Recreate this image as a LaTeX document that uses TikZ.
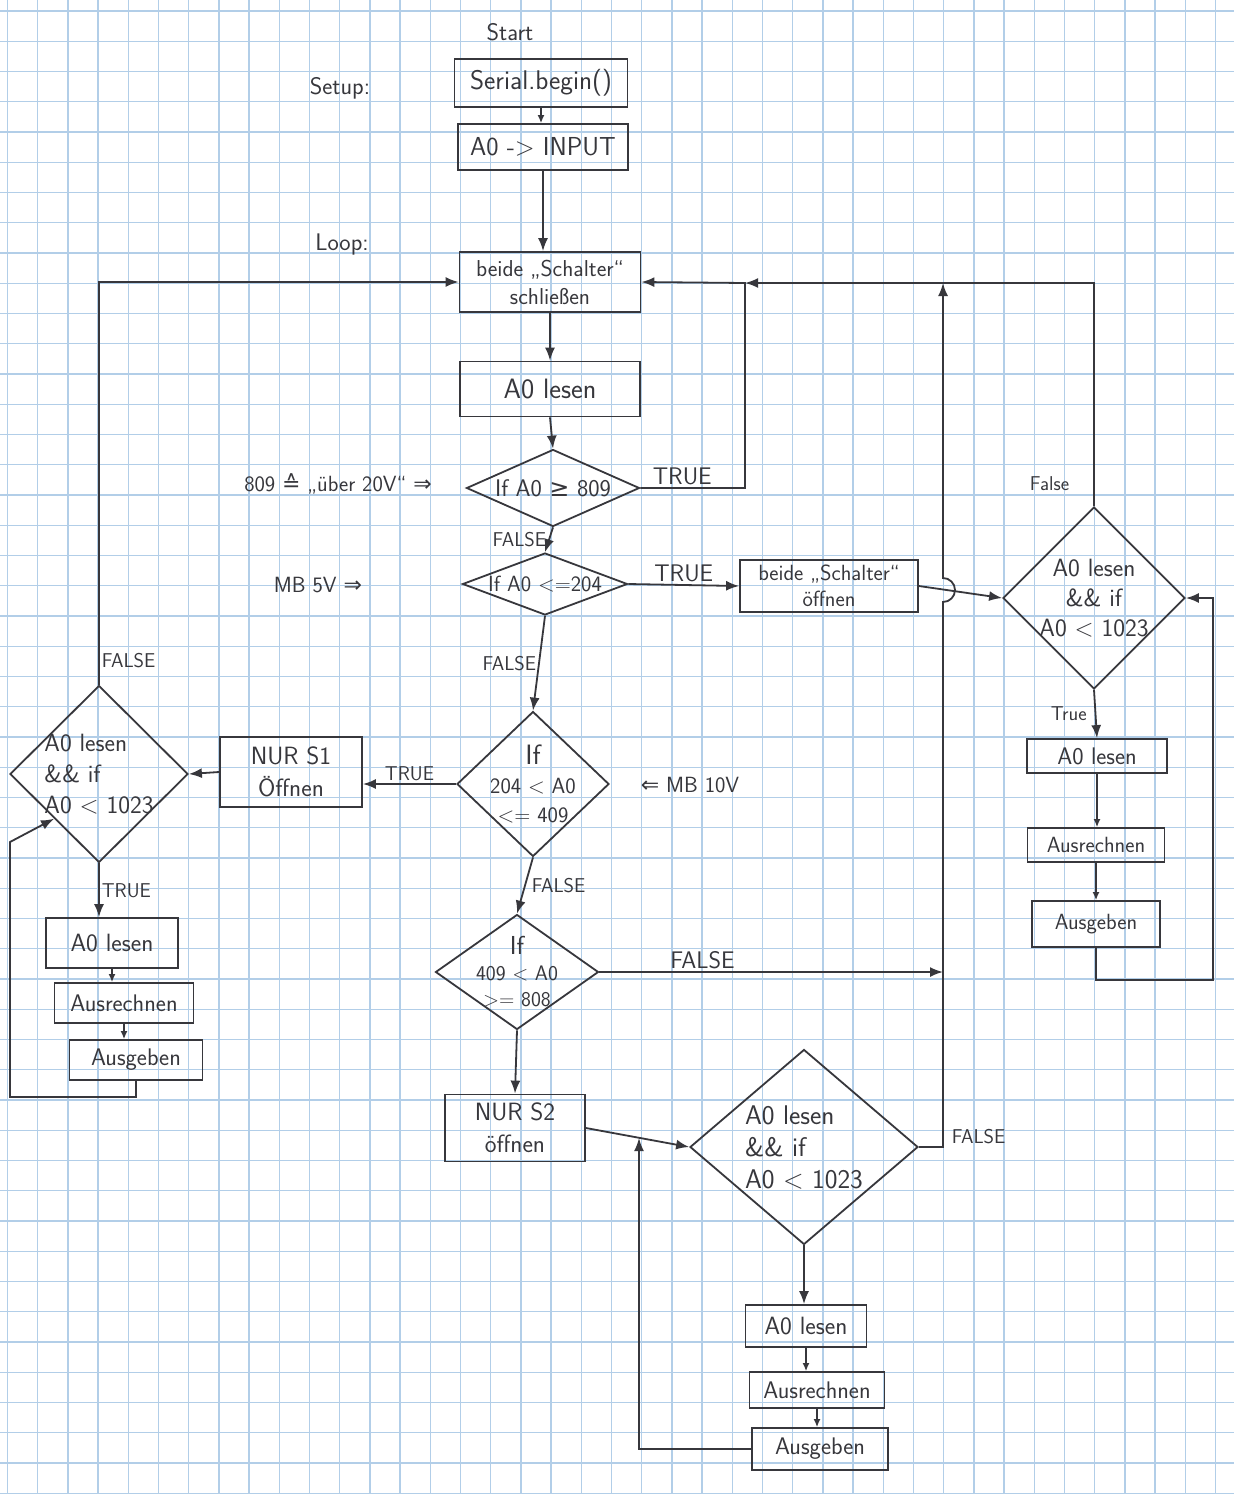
\documentclass[tikz,border=0pt]{standalone}
\usepackage{fontspec}
\usepackage{amsmath, amssymb}
\usetikzlibrary{shapes.geometric, arrows.meta, positioning, calc}
\newfontfamily\symfont{DejaVu Sans}
\definecolor{pencil}{RGB}{55,55,60}
\definecolor{gridblue}{RGB}{178,206,232}

\begin{document}
\begin{tikzpicture}[
    x=1pt, y=-1pt,
    font=\sffamily,
    gridline/.style={draw=gridblue, line width=1.3pt},
    box/.style={rectangle, draw=pencil, line width=1.8pt, inner sep=0pt, align=center, text=pencil},
    dia/.style={diamond, draw=pencil, line width=1.8pt, inner sep=0pt},
    txt/.style={text=pencil, align=center, inner sep=1pt},
    fs/.style 2 args={font=\sffamily\fontsize{#1}{#2}\selectfont},
    lbl/.style={text=pencil, inner sep=2pt, font=\sffamily\fontsize{20}{24}\selectfont},
    arrow/.style={-{Latex[length=13pt, width=10pt]}, draw=pencil, line width=1.8pt},
    sarrow/.style={-{Latex[length=8pt, width=7pt]}, draw=pencil, line width=1.5pt}
]
    \useasboundingbox (0,0) rectangle (1234,1494);
    \fill[white] (0,0) rectangle (1234,1494);
    \foreach \i in {0,...,40} {
        \draw[gridline] ({7.5+30.2*\i},0) -- ({7.5+30.2*\i},1494);
    }
    \foreach \j in {0,...,49} {
        \draw[gridline] (0,{11+30.25*\j}) -- (1234,{11+30.25*\j});
    }

    \node[txt, fs={24}{28}] (start) at (510,32) {Start};
    \node[txt, fs={24}{28}] (setup) at (340,88) {Setup:};
    \node[txt, fs={24}{28}] (loop) at (342,245) {Loop:};
    \node[box, fs={27}{30}, minimum width=173, minimum height=48] (serial) at (541,83) {Serial.begin()};
    \node[box, fs={26}{30}, minimum width=170, minimum height=46] (input) at (543,147) {A0 -> INPUT};
    \node[box, fs={23}{28}, minimum width=181, minimum height=60] (close) at (550,282) {beide „Schalter“\\schließen};
    \node[box, fs={28}{30}, minimum width=180, minimum height=55] (read) at (550,389) {A0 lesen};

    \node[dia, minimum width=173, minimum height=77] (d1) at (553,488) {};
    \node[txt, fs={24}{28}] (d1t) at (d1) {If A0 {\symfont ≥} 809};
    \node[dia, minimum width=165, minimum height=62] (d2) at (545,584) {};
    \node[txt, fs={22}{26}] (d2t) at (d2) {If A0 <=204};
    \node[box, fs={22}{26}, minimum width=178, minimum height=52] (open) at (829,586) {beide „Schalter“\\öffnen};

    \node[dia, minimum width=182, minimum height=182] (dR) at (1094,598) {};
    \node[txt, fs={25}{30}] (dRt) at (dR) {A0 lesen\\\&\& if\\A0 < 1023};
    \node[box, fs={24}{28}, minimum width=140, minimum height=34] (r1) at (1097,756) {A0 lesen};
    \node[box, fs={22}{26}, minimum width=137, minimum height=34] (r2) at (1096,845) {Ausrechnen};
    \node[box, fs={22}{26}, minimum width=128, minimum height=46] (r3) at (1096,924) {Ausgeben};

    \node[dia, minimum width=152, minimum height=145] (d3) at (533,784) {};
    \node[txt, fs={22}{29}] (d3t) at (d3) {{\fontsize{28}{29}\selectfont If}\\204 < A0\\<= 409};
    \node[box, fs={25}{32}, minimum width=142, minimum height=70] (s1) at (291,772) {NUR S1\\Öffnen};

    \node[dia, minimum width=178, minimum height=177] (dL) at (99,774) {};
    \node[txt, fs={25}{31}, align=left] (dLt) at (dL) {A0 lesen\\\&\& if\\A0 < 1023};
    \node[box, fs={25}{28}, minimum width=132, minimum height=50] (l1) at (112,943) {A0 lesen};
    \node[box, fs={24}{28}, minimum width=139, minimum height=40] (l2) at (124,1003) {Ausrechnen};
    \node[box, fs={24}{28}, minimum width=133, minimum height=40] (l3) at (136,1060) {Ausgeben};

    \node[dia, minimum width=163, minimum height=115] (d4) at (517,972) {};
    \node[txt, fs={21}{26}] (d4t) at (d4) {{\fontsize{26}{26}\selectfont If}\\409 < A0\\>= 808};
    \node[box, fs={25}{32}, minimum width=140, minimum height=67] (s2) at (515,1128) {NUR S2\\öffnen};

    \node[dia, minimum width=228, minimum height=195] (dB) at (804,1147) {};
    \node[txt, fs={27}{32}, align=left] (dBt) at (dB) {A0 lesen\\\&\& if\\A0 < 1023};
    \node[box, fs={25}{28}, minimum width=121, minimum height=42] (b1) at (806,1326) {A0 lesen};
    \node[box, fs={24}{28}, minimum width=135, minimum height=36] (b2) at (817,1390) {Ausrechnen};
    \node[box, fs={24}{28}, minimum width=136, minimum height=42] (b3) at (820,1449) {Ausgeben};

    \node[txt, fs={22}{26}] (n809) at (338,484) {809 {\symfont ≙} „über 20V“ {\symfont ⇒}};
    \node[txt, fs={22}{26}] (n5v) at (318,585) {MB 5V {\symfont ⇒}};
    \node[txt, fs={22}{26}] (n10v) at (690,785) {{\symfont ⇐} MB 10V};

    \coordinate (j1) at (745,283);
    \coordinate (j2) at (943,283);
    \coordinate (hop) at (943,602);
    \coordinate (rl) at (1213,980);
    \coordinate (ll) at (10,1097);
    \coordinate (llu) at (10,842);
    \coordinate (bl) at (639,1138);

    \draw[sarrow] (serial.south) -- (serial.south |- input.north);
    \draw[arrow] (input.south) -- (input.south |- close.north);
    \draw[arrow] (close.south) -- (read.north);
    \draw[arrow] (read.south) -- (d1.north);
    \draw[arrow] (d1.south) -- node[lbl, left] {FALSE} (d2.north);
    \draw[arrow] (d2.south) -- node[lbl, left] {FALSE} (d3.north);
    \draw[arrow] (d3.south) -- node[lbl, right=4pt] {FALSE} (d4.north);
    \draw[arrow] (d4.south) -- (s2.north);

    \draw[arrow] (d1.east) -| node[lbl, pos=0.2, above, fs={24}{28}] {TRUE} (j1) -- (close.east);
    \draw[arrow] (dR.north) |- node[lbl, pos=0.05, left=22pt] {False} (j1);
    \draw[arrow] (dB.east) -| node[lbl, pos=0.51, right=6pt] {FALSE} (hop)
        arc[start angle=90, end angle=-90, radius=12] -- (j2);
    \draw[arrow] (d4.east) -- node[lbl, pos=0.3, above, fs={24}{28}] {FALSE} (d4.east -| j2);

    \draw[arrow] (d2.east) -- node[lbl, above, fs={24}{28}] {TRUE} (open.west);
    \draw[arrow] (open.east) -- (dR.west);
    \draw[arrow] (dR.south) -- node[lbl, left=6pt] {True} (r1.north);
    \draw[sarrow] (r1.south) -- (r1.south |- r2.north);
    \draw[sarrow] (r2.south) -- (r2.south |- r3.north);
    \draw[arrow] (r3.south) |- (rl) |- (dR.east);

    \draw[arrow] (d3.west) -- node[lbl, above] {TRUE} (d3.west -| s1.east);
    \draw[arrow] (s1.west) -- (dL.east);
    \draw[arrow] (dL.north) |- node[lbl, pos=0.03, right] {FALSE} (close.west);
    \draw[arrow] (dL.south) -- node[lbl, right] {TRUE} (dL.south |- l1.north);
    \draw[sarrow] (l1.south) -- (l1.south |- l2.north);
    \draw[sarrow] (l2.south) -- (l2.south |- l3.north);
    \draw[arrow] (l3.south) |- (ll) -- (llu) -- (dL.south west);

    \draw[arrow] (s2.east) -- (dB.west);
    \draw[arrow] (dB.south) -- (dB.south |- b1.north);
    \draw[sarrow] (b1.south) -- (b1.south |- b2.north);
    \draw[sarrow] (b2.south) -- (b2.south |- b3.north);
    \draw[arrow] (b3.west) -| (bl);
\end{tikzpicture}
\end{document}
